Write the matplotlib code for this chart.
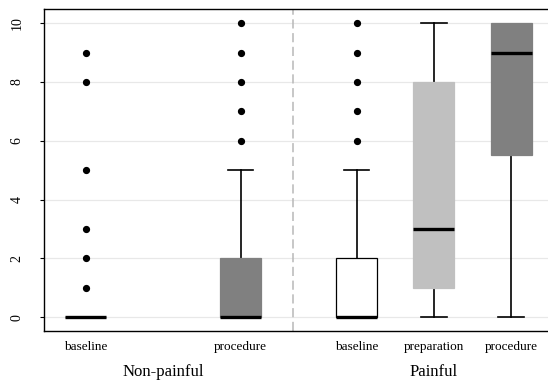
import matplotlib
matplotlib.use("Agg")
import matplotlib.pyplot as plt

plt.rcParams['font.family'] = ['Liberation Serif', 'DejaVu Serif']

# pain score summaries per phase
labels = ["baseline", "procedure", "baseline", "preparation", "procedure"]
groups = ["Non-painful", "Painful"]
q1 = [0, 0, 0, 1, 5.5]
med = [0, 0, 0, 3, 9]
q3 = [0, 2, 2, 8, 10]
whislo = [0, 0, 0, 0, 0]
whishi = [0, 5, 5, 10, 10]
fliers = [
    [1, 2, 3, 5, 8, 9],
    [6, 7, 8, 9, 10],
    [6, 7, 8, 9, 10],
    [],
    [],
]
colors = ["#808080", "#808080", "#ffffff", "#c0c0c0", "#808080"]
positions = [0, 2, 3.5, 4.5, 5.5]

stats = []
for i in range(len(labels)):
    stats.append({"label": labels[i], "q1": q1[i], "med": med[i], "q3": q3[i],
                  "whislo": whislo[i], "whishi": whishi[i], "fliers": fliers[i]})

fig = plt.figure(figsize=(5.48, 3.83), dpi=100)
ax = fig.add_axes([0.0808, 0.1358, 0.9192, 0.8399])

bp = ax.bxp(stats, positions=positions, widths=0.53, patch_artist=True,
            showfliers=True,
            boxprops=dict(linewidth=0.9, zorder=3),
            medianprops=dict(color="black", linewidth=2.4, solid_capstyle="butt", zorder=4),
            whiskerprops=dict(color="black", linewidth=1.2, zorder=2),
            capprops=dict(color="black", linewidth=1.2, zorder=2),
            capwidths=0.33,
            flierprops=dict(marker="o", markerfacecolor="black", markeredgecolor="black",
                            markersize=4.2, linestyle="none", zorder=5))
for patch, c in zip(bp["boxes"], colors):
    patch.set_facecolor(c)
    patch.set_edgecolor("black" if c == "#ffffff" else c)

# caps that sit on the box edge are hidden by the box
for i in range(len(labels)):
    if whishi[i] == q3[i]:
        bp["caps"][2 * i + 1].set_visible(False)
    if whislo[i] == q1[i]:
        bp["caps"][2 * i].set_visible(whislo[i] != med[i])

ax.axvline(2.674, color="#b8b8b8", linestyle=(0, (6, 3)), linewidth=1.1, zorder=1)

ax.set_xlim(-0.539, 5.977)
ax.set_ylim(-0.47, 10.47)
ax.set_yticks([0, 2, 4, 6, 8, 10])
ax.yaxis.grid(True, color="#e8e8e8", linewidth=0.9)
ax.set_axisbelow(True)
ax.tick_params(axis="y", length=3, width=0.8, labelsize=10, labelrotation=90, pad=12)
for t in ax.get_yticklabels():
    t.set_va("center")
ax.set_xticks(positions)
ax.set_xticklabels(labels)
ax.tick_params(axis="x", length=0, labelsize=9.5, pad=7)

ax.spines["right"].set_visible(False)
for s in ["left", "top", "bottom"]:
    ax.spines[s].set_linewidth(1.0)

ax.text(1, -0.127, groups[0], transform=ax.get_xaxis_transform(),
        ha="center", va="center", fontsize=12)
ax.text(4.5, -0.127, groups[1], transform=ax.get_xaxis_transform(),
        ha="center", va="center", fontsize=12)

fig.savefig("out.png", dpi=100)
plt.close(fig)
